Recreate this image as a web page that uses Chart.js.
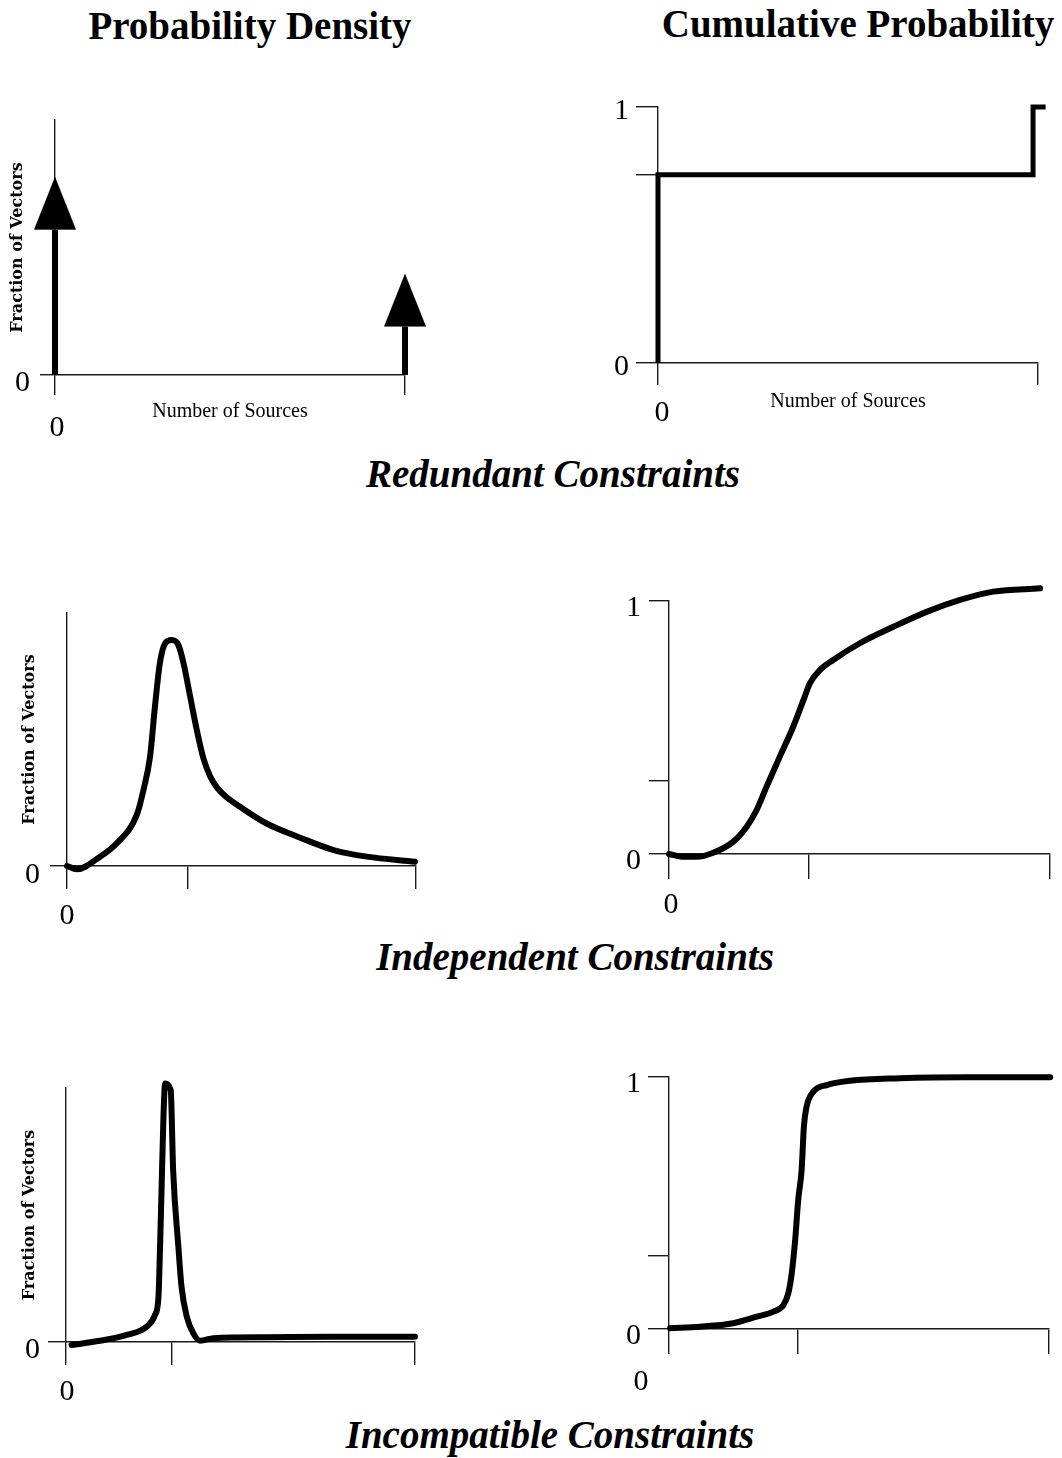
<!DOCTYPE html>
<html>
<head>
<meta charset="utf-8">
<script src="https://cdn.jsdelivr.net/npm/chart.js@4.4.1/dist/chart.umd.min.js"></script>
<style>
  body { margin: 0; background: #fff; width: 1062px; height: 1458px; position: relative; overflow: hidden; font-family: "Liberation Serif", serif; }
  canvas { position: absolute; }
  .head { position: absolute; font-weight: bold; font-size: 39px; line-height: 1; white-space: nowrap; color: #000; transform: translateX(-50%); }
  .row { font-style: italic; }
</style>
</head>
<body>
<div class="head" style="left:250px; top:6px;">Probability Density</div>
<div class="head" style="left:858px; top:4px;">Cumulative Probability</div>
<div class="head row" style="left:553px; top:454px;">Redundant Constraints</div>
<div class="head row" style="left:575px; top:937px;">Independent Constraints</div>
<div class="head row" style="left:550px; top:1415px;">Incompatible Constraints</div>

<canvas id="redDens" width="470" height="360" style="left:0px; top:90px;"></canvas>
<canvas id="redCum" width="502" height="360" style="left:560px; top:80px;"></canvas>
<canvas id="indDens" width="470" height="370" style="left:0px; top:580px;"></canvas>
<canvas id="indCum" width="502" height="370" style="left:560px; top:570px;"></canvas>
<canvas id="incDens" width="470" height="370" style="left:0px; top:1050px;"></canvas>
<canvas id="incCum" width="502" height="360" style="left:560px; top:1050px;"></canvas>

<script>
// --- data (x: fraction of the axis length, y: fraction of axis height) ---

// Redundant constraints: two spikes, drawn as arrows (shaft height below the head)
const redDensX = [0, 1];
const redDensY = [0.57, 0.19];
const redCumX = [0, 0, 0.987, 0.987, 1.02];
const redCumY = [0, 0.735, 0.735, 1, 1];

// Independent constraints
const indDensX = [0, 0.028, 0.095, 0.142, 0.200, 0.219, 0.238, 0.252, 0.266, 0.281, 0.300, 0.319,
                  0.334, 0.353, 0.372, 0.391, 0.410, 0.430, 0.455, 0.496, 0.572, 0.668, 0.764, 0.859, 0.997];
const indDensY = [0, -0.013, 0.037, 0.089, 0.202, 0.300, 0.432, 0.630, 0.801, 0.880, 0.893, 0.874,
                  0.801, 0.669, 0.537, 0.425, 0.355, 0.310, 0.275, 0.234, 0.168, 0.112, 0.063, 0.037, 0.017];
const indCumX = [0, 0.038, 0.073, 0.116, 0.169, 0.204, 0.230, 0.256, 0.291, 0.326, 0.353, 0.370,
                 0.396, 0.431, 0.501, 0.589, 0.676, 0.764, 0.851, 0.974];
const indCumY = [0, -0.011, -0.011, 0.005, 0.049, 0.108, 0.174, 0.266, 0.385, 0.503, 0.609, 0.675,
                 0.727, 0.767, 0.833, 0.898, 0.957, 1.004, 1.037, 1.050];

// Incompatible constraints
const incDensX = [0.016, 0.097, 0.174, 0.231, 0.255, 0.265, 0.269, 0.274, 0.279, 0.284, 0.300, 0.307,
                  0.322, 0.331, 0.346, 0.365, 0.384, 0.422, 0.575, 0.766, 1.0];
const incDensY = [-0.012, 0.005, 0.028, 0.060, 0.106, 0.178, 0.349, 0.612, 0.874, 1.018, 0.992, 0.677,
                  0.375, 0.218, 0.100, 0.034, 0.005, 0.015, 0.019, 0.021, 0.021];
const incCumX = [0.003, 0.082, 0.169, 0.231, 0.275, 0.301, 0.314, 0.323, 0.332, 0.340, 0.349, 0.355,
                 0.362, 0.380, 0.415, 0.476, 0.608, 0.783, 1.003];
const incCumY = [0.003, 0.009, 0.023, 0.049, 0.069, 0.095, 0.142, 0.221, 0.353, 0.512, 0.631, 0.803,
                 0.882, 0.942, 0.968, 0.985, 0.995, 0.999, 0.999];

// tick positions
const redTicksX = [0, 1];
const redDensTicksY = [0];
const redCumTicksY = [0, 0.735, 1];
const indDensTicksX = [0, 0.347, 1];
const indCumTicksX = [0, 0.367, 1];
const incDensTicksX = [0, 0.304, 1];
const incCumTicksX = [0, 0.339, 1];
const densTicksY = [0];
const cumTicksY = [0, 0.29, 1];

const yTitle = "Fraction of Vectors";
const xTitle = "Number of Sources";

const ink = "#000";
const axisInk = "#1a1a1a";
const serif = "Liberation Serif";

function pts(xs, ys) {
    return xs.map((x, i) => ({ x: x, y: ys[i] }));
}

function arrowHead(w, h) {
    // tip at top, base at the canvas centre so the point sits at the shaft end
    const c = document.createElement("canvas");
    c.width = w;
    c.height = h * 2;
    const g = c.getContext("2d");
    g.fillStyle = ink;
    g.beginPath();
    g.moveTo(w / 2, 0);
    g.lineTo(w, h);
    g.lineTo(0, h);
    g.closePath();
    g.fill();
    return c;
}

function makeChart(id, area, cfg) {
    const cv = document.getElementById(id);
    const bx = parseFloat(cv.style.left), by = parseFloat(cv.style.top);
    const bw = cv.width, bh = cv.height;
    const yWidth = area.l - bx;
    const xHeight = by + bh - area.b;

    return new Chart(cv.getContext("2d"), {
        type: "line",
        data: { datasets: cfg.datasets },
        options: {
            responsive: false,
            animation: false,
            events: [],
            layout: { padding: { left: 0, top: area.t - by, right: bx + bw - area.r, bottom: 0 } },
            plugins: { legend: { display: false }, tooltip: { enabled: false } },
            scales: {
                x: {
                    type: "linear", min: 0, max: 1,
                    afterBuildTicks: s => { s.ticks = cfg.ticksX.map(v => ({ value: v })); },
                    afterFit: s => { s.height = xHeight; },
                    grid: { drawOnChartArea: false, tickLength: cfg.tlX, color: axisInk, lineWidth: 1.4 },
                    border: { color: axisInk, width: 1.4 },
                    ticks: {
                        callback: v => (v === 0 ? "0" : ""),
                        autoSkip: false, maxRotation: 0,
                        padding: cfg.padX, labelOffset: cfg.offX || 0,
                        color: ink, font: { family: serif, size: 30 }
                    },
                    title: {
                        display: !!cfg.xTitle, text: xTitle, color: ink,
                        font: { family: serif, size: 20 },
                        padding: { top: 0, bottom: cfg.xTitlePad || 0 }
                    }
                },
                y: {
                    type: "linear", min: 0, max: 1,
                    afterBuildTicks: s => { s.ticks = cfg.ticksY.map(v => ({ value: v })); },
                    afterFit: s => { s.width = yWidth; },
                    grid: { drawOnChartArea: false, tickLength: cfg.tlY, color: axisInk, lineWidth: 1.4 },
                    border: { color: axisInk, width: 1.4 },
                    ticks: {
                        callback: v => (v === 0 ? "0" : v === 1 ? "1" : ""),
                        autoSkip: false,
                        padding: cfg.padY, labelOffset: cfg.offY,
                        color: ink, font: { family: serif, size: 30 }
                    },
                    title: {
                        display: !!cfg.yTitle, text: yTitle, color: ink,
                        font: { family: "DejaVu Serif", size: 16, weight: "bold" },
                        padding: { top: cfg.yTitlePad || 0, bottom: 0 }
                    }
                }
            }
        }
    });
}

function curve(xs, ys, extra) {
    return Object.assign({
        data: pts(xs, ys),
        borderColor: ink,
        borderWidth: 6,
        pointRadius: 0,
        fill: false,
        clip: false,
        cubicInterpolationMode: "monotone",
        borderCapStyle: "round",
        borderJoinStyle: "round"
    }, extra || {});
}

// Redundant: arrows
const head = arrowHead(42, 53);
const arrows = redDensX.map((x, i) => ({
    data: [{ x: x, y: 0 }, { x: x, y: redDensY[i] }],
    borderColor: ink,
    borderWidth: 6,
    borderCapStyle: "butt",
    pointStyle: head,
    pointRadius: ctx => (ctx.dataIndex === 1 ? 4 : 0),
    fill: false,
    clip: false,
    tension: 0
}));

makeChart("redDens", { l: 55, t: 120, r: 405, b: 375 }, {
    datasets: arrows,
    ticksX: redTicksX, ticksY: redDensTicksY,
    tlX: 20, padX: 15, offX: 2,
    tlY: 15, padY: 10, offY: 8,
    xTitle: true, xTitlePad: 26,
    yTitle: true, yTitlePad: 8.4
});

makeChart("redCum", { l: 658, t: 107, r: 1038, b: 363 }, {
    datasets: [curve(redCumX, redCumY, { borderWidth: 5, cubicInterpolationMode: "default", tension: 0,
                                         borderCapStyle: "butt", borderJoinStyle: "miter" })],
    ticksX: redTicksX, ticksY: redCumTicksY,
    tlX: 22, padX: 10, offX: 4,
    tlY: 22, padY: 7, offY: 4,
    xTitle: true, xTitlePad: 26
});

makeChart("indDens", { l: 67, t: 613, r: 416, b: 866 }, {
    datasets: [curve(indDensX, indDensY)],
    ticksX: indDensTicksX, ticksY: densTicksY,
    tlX: 23, padX: 9, offX: 0,
    tlY: 17, padY: 10, offY: 9,
    yTitle: true, yTitlePad: 20.4
});

makeChart("indCum", { l: 669, t: 601, r: 1050, b: 854 }, {
    datasets: [curve(indCumX, indCumY)],
    ticksX: indCumTicksX, ticksY: cumTicksY,
    tlX: 25, padX: 8, offX: 2,
    tlY: 20, padY: 8, offY: 7
});

makeChart("incDens", { l: 66, t: 1088, r: 415, b: 1342 }, {
    datasets: [curve(incDensX, incDensY)],
    ticksX: incDensTicksX, ticksY: densTicksY,
    tlX: 23, padX: 9, offX: 1,
    tlY: 18, padY: 8, offY: 8,
    yTitle: true, yTitlePad: 20.4
});

makeChart("incCum", { l: 669, t: 1077, r: 1049, b: 1329 }, {
    datasets: [curve(incCumX, incCumY)],
    ticksX: incCumTicksX, ticksY: cumTicksY,
    tlX: 25, padX: 10, offX: -28,
    tlY: 21, padY: 7, offY: 7
});
</script>
</body>
</html>
